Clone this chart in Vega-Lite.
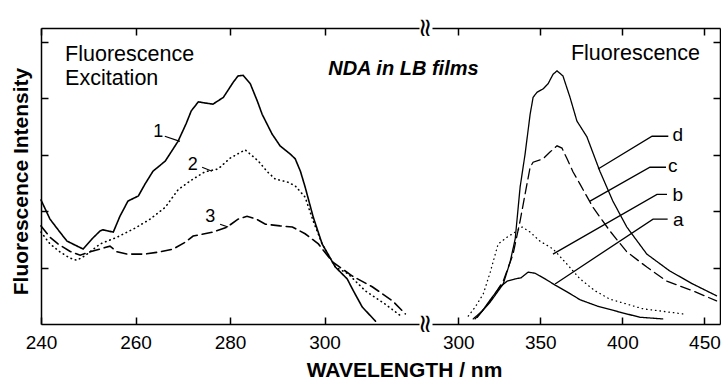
{
  "$schema": "https://vega.github.io/schema/vega-lite/v6.json",
  "padding": {"left": 10, "top": 17, "right": 0, "bottom": 0},
  "config": {
    "view": {"stroke": null},
    "font": "Liberation Sans",
    "axis": {
      "grid": false,
      "domainColor": "black",
      "domainWidth": 1.5,
      "tickColor": "black",
      "tickWidth": 1.5,
      "tickSize": -7,
      "labelFont": "Liberation Sans",
      "labelFontSize": 19,
      "labelColor": "black",
      "labelFlush": false,
      "labelPadding": 31,
      "labelBaseline": "alphabetic",
      "titleColor": "black",
      "titleFont": "Liberation Sans"
    }
  },
  "datasets": {
    "exc": [
      {"wl": 240.0, "v": 2.20, "s": "1"}, {"wl": 241.9, "v": 1.86, "s": "1"}, {"wl": 244.0, "v": 1.63, "s": "1"},
      {"wl": 245.5, "v": 1.47, "s": "1"}, {"wl": 247.2, "v": 1.40, "s": "1"}, {"wl": 248.9, "v": 1.33, "s": "1"},
      {"wl": 250.8, "v": 1.51, "s": "1"}, {"wl": 252.5, "v": 1.65, "s": "1"}, {"wl": 253.1, "v": 1.67, "s": "1"},
      {"wl": 254.2, "v": 1.65, "s": "1"}, {"wl": 255.3, "v": 1.63, "s": "1"}, {"wl": 256.7, "v": 1.91, "s": "1"},
      {"wl": 258.4, "v": 2.18, "s": "1"}, {"wl": 260.6, "v": 2.27, "s": "1"}, {"wl": 262.0, "v": 2.48, "s": "1"},
      {"wl": 263.7, "v": 2.71, "s": "1"}, {"wl": 266.3, "v": 2.89, "s": "1"}, {"wl": 269.0, "v": 3.24, "s": "1"},
      {"wl": 270.7, "v": 3.55, "s": "1"}, {"wl": 271.8, "v": 3.78, "s": "1"}, {"wl": 273.3, "v": 3.94, "s": "1"},
      {"wl": 274.7, "v": 3.92, "s": "1"}, {"wl": 276.4, "v": 3.90, "s": "1"}, {"wl": 278.6, "v": 4.02, "s": "1"},
      {"wl": 280.7, "v": 4.29, "s": "1"}, {"wl": 281.7, "v": 4.40, "s": "1"}, {"wl": 282.8, "v": 4.41, "s": "1"},
      {"wl": 284.3, "v": 4.26, "s": "1"}, {"wl": 285.8, "v": 3.95, "s": "1"}, {"wl": 286.8, "v": 3.72, "s": "1"},
      {"wl": 288.9, "v": 3.37, "s": "1"}, {"wl": 290.6, "v": 3.16, "s": "1"}, {"wl": 292.8, "v": 3.01, "s": "1"},
      {"wl": 293.8, "v": 2.93, "s": "1"}, {"wl": 294.9, "v": 2.71, "s": "1"}, {"wl": 295.9, "v": 2.43, "s": "1"},
      {"wl": 297.6, "v": 1.90, "s": "1"}, {"wl": 299.5, "v": 1.42, "s": "1"}, {"wl": 302.3, "v": 1.01, "s": "1"},
      {"wl": 304.8, "v": 0.80, "s": "1"}, {"wl": 306.1, "v": 0.59, "s": "1"}, {"wl": 308.0, "v": 0.30, "s": "1"},
      {"wl": 310.8, "v": 0.05, "s": "1"},
      {"wl": 240.0, "v": 1.63, "s": "2"}, {"wl": 241.9, "v": 1.42, "s": "2"}, {"wl": 244.0, "v": 1.28, "s": "2"},
      {"wl": 246.1, "v": 1.17, "s": "2"}, {"wl": 247.6, "v": 1.13, "s": "2"}, {"wl": 249.3, "v": 1.21, "s": "2"},
      {"wl": 252.5, "v": 1.42, "s": "2"}, {"wl": 256.1, "v": 1.54, "s": "2"}, {"wl": 259.9, "v": 1.70, "s": "2"},
      {"wl": 263.1, "v": 1.86, "s": "2"}, {"wl": 266.3, "v": 2.07, "s": "2"}, {"wl": 269.0, "v": 2.38, "s": "2"},
      {"wl": 271.6, "v": 2.54, "s": "2"}, {"wl": 274.7, "v": 2.70, "s": "2"}, {"wl": 277.5, "v": 2.75, "s": "2"},
      {"wl": 280.0, "v": 2.94, "s": "2"}, {"wl": 283.2, "v": 3.09, "s": "2"}, {"wl": 286.0, "v": 2.89, "s": "2"},
      {"wl": 287.9, "v": 2.70, "s": "2"}, {"wl": 289.6, "v": 2.57, "s": "2"}, {"wl": 292.1, "v": 2.52, "s": "2"},
      {"wl": 293.8, "v": 2.45, "s": "2"}, {"wl": 295.9, "v": 2.25, "s": "2"}, {"wl": 297.6, "v": 1.83, "s": "2"},
      {"wl": 299.5, "v": 1.42, "s": "2"}, {"wl": 302.3, "v": 1.01, "s": "2"}, {"wl": 305.0, "v": 0.89, "s": "2"},
      {"wl": 308.6, "v": 0.59, "s": "2"}, {"wl": 312.9, "v": 0.35, "s": "2"}, {"wl": 316.5, "v": 0.12, "s": "2"},
      {"wl": 240.0, "v": 1.74, "s": "3"}, {"wl": 241.9, "v": 1.54, "s": "3"}, {"wl": 243.6, "v": 1.42, "s": "3"},
      {"wl": 246.1, "v": 1.29, "s": "3"}, {"wl": 248.3, "v": 1.22, "s": "3"}, {"wl": 250.4, "v": 1.28, "s": "3"},
      {"wl": 252.5, "v": 1.33, "s": "3"}, {"wl": 254.6, "v": 1.38, "s": "3"}, {"wl": 256.1, "v": 1.28, "s": "3"},
      {"wl": 258.2, "v": 1.24, "s": "3"}, {"wl": 262.0, "v": 1.24, "s": "3"}, {"wl": 265.2, "v": 1.28, "s": "3"},
      {"wl": 268.0, "v": 1.33, "s": "3"}, {"wl": 270.5, "v": 1.45, "s": "3"}, {"wl": 272.2, "v": 1.56, "s": "3"},
      {"wl": 276.4, "v": 1.63, "s": "3"}, {"wl": 279.4, "v": 1.72, "s": "3"}, {"wl": 281.7, "v": 1.86, "s": "3"},
      {"wl": 283.6, "v": 1.91, "s": "3"}, {"wl": 285.6, "v": 1.86, "s": "3"}, {"wl": 287.5, "v": 1.77, "s": "3"},
      {"wl": 290.6, "v": 1.74, "s": "3"}, {"wl": 293.2, "v": 1.72, "s": "3"}, {"wl": 295.9, "v": 1.60, "s": "3"},
      {"wl": 298.7, "v": 1.42, "s": "3"}, {"wl": 301.7, "v": 1.10, "s": "3"}, {"wl": 305.9, "v": 0.85, "s": "3"},
      {"wl": 310.1, "v": 0.66, "s": "3"}, {"wl": 314.4, "v": 0.41, "s": "3"}, {"wl": 317.1, "v": 0.18, "s": "3"}
    ],
    "flu": [
      {"wl": 309.1, "v": 0.09, "s": "a"}, {"wl": 314.6, "v": 0.23, "s": "a"}, {"wl": 319.5, "v": 0.43, "s": "a"},
      {"wl": 325.5, "v": 0.66, "s": "a"}, {"wl": 329.8, "v": 0.76, "s": "a"}, {"wl": 334.7, "v": 0.80, "s": "a"},
      {"wl": 338.3, "v": 0.82, "s": "a"}, {"wl": 342.6, "v": 0.92, "s": "a"}, {"wl": 346.8, "v": 0.90, "s": "a"},
      {"wl": 352.9, "v": 0.80, "s": "a"}, {"wl": 359.0, "v": 0.69, "s": "a"}, {"wl": 366.3, "v": 0.57, "s": "a"},
      {"wl": 374.2, "v": 0.43, "s": "a"}, {"wl": 384.5, "v": 0.32, "s": "a"}, {"wl": 398.5, "v": 0.21, "s": "a"},
      {"wl": 410.6, "v": 0.12, "s": "a"}, {"wl": 424.6, "v": 0.09, "s": "a"},
      {"wl": 306.1, "v": 0.14, "s": "b"}, {"wl": 310.3, "v": 0.30, "s": "b"}, {"wl": 315.2, "v": 0.53, "s": "b"},
      {"wl": 319.5, "v": 0.92, "s": "b"}, {"wl": 324.3, "v": 1.42, "s": "b"}, {"wl": 329.8, "v": 1.54, "s": "b"},
      {"wl": 334.7, "v": 1.63, "s": "b"}, {"wl": 338.9, "v": 1.72, "s": "b"}, {"wl": 343.8, "v": 1.63, "s": "b"},
      {"wl": 349.8, "v": 1.47, "s": "b"}, {"wl": 357.8, "v": 1.33, "s": "b"}, {"wl": 366.3, "v": 1.06, "s": "b"},
      {"wl": 374.2, "v": 0.80, "s": "b"}, {"wl": 383.3, "v": 0.59, "s": "b"}, {"wl": 392.4, "v": 0.44, "s": "b"},
      {"wl": 412.5, "v": 0.27, "s": "b"}, {"wl": 436.8, "v": 0.18, "s": "b"},
      {"wl": 311.6, "v": 0.12, "s": "c"}, {"wl": 319.5, "v": 0.41, "s": "c"}, {"wl": 327.4, "v": 0.76, "s": "c"},
      {"wl": 333.4, "v": 1.24, "s": "c"}, {"wl": 337.7, "v": 1.83, "s": "c"}, {"wl": 340.7, "v": 2.30, "s": "c"},
      {"wl": 343.8, "v": 2.78, "s": "c"}, {"wl": 345.6, "v": 2.87, "s": "c"}, {"wl": 351.7, "v": 2.93, "s": "c"},
      {"wl": 355.9, "v": 3.05, "s": "c"}, {"wl": 360.2, "v": 3.16, "s": "c"}, {"wl": 363.2, "v": 3.12, "s": "c"},
      {"wl": 366.3, "v": 2.93, "s": "c"}, {"wl": 369.9, "v": 2.70, "s": "c"}, {"wl": 374.2, "v": 2.48, "s": "c"},
      {"wl": 382.1, "v": 2.07, "s": "c"}, {"wl": 392.4, "v": 1.65, "s": "c"}, {"wl": 402.7, "v": 1.28, "s": "c"},
      {"wl": 414.9, "v": 1.01, "s": "c"}, {"wl": 427.1, "v": 0.76, "s": "c"}, {"wl": 442.9, "v": 0.59, "s": "c"},
      {"wl": 457.4, "v": 0.41, "s": "c"},
      {"wl": 310.3, "v": 0.09, "s": "d"}, {"wl": 319.5, "v": 0.39, "s": "d"}, {"wl": 327.4, "v": 0.71, "s": "d"},
      {"wl": 331.6, "v": 1.10, "s": "d"}, {"wl": 334.7, "v": 1.51, "s": "d"}, {"wl": 337.7, "v": 2.43, "s": "d"},
      {"wl": 340.7, "v": 3.01, "s": "d"}, {"wl": 343.8, "v": 3.72, "s": "d"}, {"wl": 345.6, "v": 4.02, "s": "d"},
      {"wl": 348.0, "v": 4.11, "s": "d"}, {"wl": 351.7, "v": 4.17, "s": "d"}, {"wl": 354.7, "v": 4.26, "s": "d"},
      {"wl": 357.8, "v": 4.43, "s": "d"}, {"wl": 360.2, "v": 4.49, "s": "d"}, {"wl": 363.8, "v": 4.40, "s": "d"},
      {"wl": 368.1, "v": 4.02, "s": "d"}, {"wl": 372.3, "v": 3.60, "s": "d"}, {"wl": 378.4, "v": 3.32, "s": "d"},
      {"wl": 386.3, "v": 2.71, "s": "d"}, {"wl": 394.2, "v": 2.18, "s": "d"}, {"wl": 402.7, "v": 1.72, "s": "d"},
      {"wl": 414.9, "v": 1.24, "s": "d"}, {"wl": 428.9, "v": 0.94, "s": "d"}, {"wl": 442.9, "v": 0.71, "s": "d"},
      {"wl": 457.4, "v": 0.50, "s": "d"}
    ],
    "leadExc": [
      {"wl": 266.2, "v": 3.33, "s": "1"}, {"wl": 269.4, "v": 3.24, "s": "1"},
      {"wl": 274.1, "v": 2.78, "s": "2"}, {"wl": 276.2, "v": 2.71, "s": "2"},
      {"wl": 277.9, "v": 1.77, "s": "3"}, {"wl": 279.6, "v": 1.72, "s": "3"}
    ],
    "leadFlu": [
      {"wl": 385.2, "v": 2.75, "s": "d"}, {"wl": 418.1, "v": 3.33, "s": "d"}, {"wl": 428.0, "v": 3.33, "s": "d"},
      {"wl": 380.3, "v": 2.18, "s": "c"}, {"wl": 416.8, "v": 2.78, "s": "c"}, {"wl": 426.6, "v": 2.78, "s": "c"},
      {"wl": 357.7, "v": 1.24, "s": "b"}, {"wl": 421.1, "v": 2.30, "s": "b"}, {"wl": 427.2, "v": 2.30, "s": "b"},
      {"wl": 359.0, "v": 0.71, "s": "a"}, {"wl": 418.7, "v": 1.86, "s": "a"}, {"wl": 427.6, "v": 1.86, "s": "a"}
    ],
    "numExc": [
      {"wl": 264.8, "v": 3.32, "t": "1"},
      {"wl": 272.1, "v": 2.73, "t": "2"},
      {"wl": 275.8, "v": 1.81, "t": "3"}
    ],
    "letFlu": [
      {"wl": 430.5, "v": 3.24, "t": "d"},
      {"wl": 427.8, "v": 2.70, "t": "c"},
      {"wl": 430.5, "v": 2.18, "t": "b"},
      {"wl": 430.8, "v": 1.74, "t": "a"}
    ],
    "capExc": [
      {"wl": 245.1, "v": 4.66, "t": "Fluorescence"},
      {"wl": 245.1, "v": 4.24, "t": "Excitation"}
    ],
    "capNda": [
      {"wl": 316.7, "v": 4.41, "t": "NDA in LB films"}
    ],
    "capFlu": [
      {"wl": 408.0, "v": 4.68, "t": "Fluorescence"}
    ],
    "brk": [
      {"wl": 321.3, "v": 0},
      {"wl": 321.3, "v": 5.25}
    ]
  },
  "hconcat": [
    {
      "width": 378,
      "height": 296,
      "layer": [
        {
          "data": {"name": "exc"},
          "mark": {"type": "line", "color": "black", "strokeWidth": 1.6, "strokeCap": "round"},
          "encoding": {
            "x": {"field": "wl", "type": "quantitative",
              "scale": {"domain": [240, 320], "nice": false, "zero": false},
              "axis": {"orient": "bottom", "values": [240, 260, 280, 300], "title": "WAVELENGTH / nm",
                "titleFontSize": 21, "titleFontWeight": "bold", "titleX": 363, "titleY": 52,
                "titleAlign": "center", "titleBaseline": "alphabetic"}},
            "y": {"field": "v", "type": "quantitative",
              "scale": {"domain": [0, 5.25], "nice": false, "zero": false},
              "axis": {"orient": "left", "values": [1, 2, 3, 4, 5], "labels": false,
                "title": "Fluorescence Intensity", "titleFontSize": 21, "titleFontWeight": "bold",
                "titlePadding": 9, "titleY": 153}},
            "strokeDash": {"field": "s", "type": "nominal",
              "scale": {"domain": ["1", "2", "3"], "range": [[1, 0], [0.5, 4], [10, 5]]},
              "legend": null}
          }
        },
        {
          "data": {"name": "leadExc"},
          "mark": {"type": "line", "color": "black", "strokeWidth": 1.2},
          "encoding": {
            "x": {"field": "wl", "type": "quantitative",
              "scale": {"domain": [240, 320], "nice": false, "zero": false},
              "axis": {"orient": "top", "values": [240, 260, 280, 300], "labels": false, "title": null}},
            "y": {"field": "v", "type": "quantitative", "scale": {"domain": [0, 5.25], "nice": false, "zero": false}, "axis": null},
            "detail": {"field": "s", "type": "nominal"}
          }
        },
        {
          "data": {"name": "numExc"},
          "mark": {"type": "text", "fontSize": 18, "align": "center", "baseline": "alphabetic", "color": "black"},
          "encoding": {
            "x": {"field": "wl", "type": "quantitative", "axis": null},
            "y": {"field": "v", "type": "quantitative", "axis": null},
            "text": {"field": "t"}
          }
        },
        {
          "data": {"name": "capExc"},
          "mark": {"type": "text", "fontSize": 21.5, "align": "left", "baseline": "alphabetic", "color": "black"},
          "encoding": {
            "x": {"field": "wl", "type": "quantitative", "axis": null},
            "y": {"field": "v", "type": "quantitative", "axis": null},
            "text": {"field": "t"}
          }
        },
        {
          "data": {"name": "capNda"},
          "mark": {"type": "text", "fontSize": 20, "fontWeight": "bold", "fontStyle": "italic", "align": "center", "baseline": "alphabetic", "color": "black"},
          "encoding": {
            "x": {"field": "wl", "type": "quantitative", "axis": null},
            "y": {"field": "v", "type": "quantitative", "axis": null},
            "text": {"field": "t"}
          }
        },
        {
          "data": {"name": "brk"},
          "mark": {"type": "text", "text": "≈", "font": "DejaVu Sans", "fontSize": 26, "angle": 90, "align": "center", "baseline": "middle", "color": "black"},
          "encoding": {
            "x": {"field": "wl", "type": "quantitative", "axis": null},
            "y": {"field": "v", "type": "quantitative", "axis": null}
          }
        }
      ],
      "resolve": {"axis": {"x": "independent", "y": "independent"}}
    },
    {
      "width": 288,
      "height": 296,
      "layer": [
        {
          "data": {"name": "flu"},
          "mark": {"type": "line", "color": "black", "strokeWidth": 1.3, "strokeCap": "round"},
          "encoding": {
            "x": {"field": "wl", "type": "quantitative",
              "scale": {"domain": [284, 459.5], "nice": false, "zero": false},
              "axis": {"orient": "bottom", "values": [300, 350, 400, 450], "title": null}},
            "y": {"field": "v", "type": "quantitative",
              "scale": {"domain": [0, 5.25], "nice": false, "zero": false},
              "axis": {"orient": "right", "values": [1, 2, 3, 4, 5], "labels": false, "title": null}},
            "strokeDash": {"field": "s", "type": "nominal",
              "scale": {"domain": ["a", "b", "c", "d"], "range": [[1, 0], [0.5, 4], [7, 4], [9, 4.5, 0.5, 4.5]]},
              "legend": null}
          }
        },
        {
          "data": {"name": "leadFlu"},
          "mark": {"type": "line", "color": "black", "strokeWidth": 1.3},
          "encoding": {
            "x": {"field": "wl", "type": "quantitative",
              "scale": {"domain": [284, 459.5], "nice": false, "zero": false},
              "axis": {"orient": "top", "values": [300, 350, 400, 450], "labels": false, "title": null}},
            "y": {"field": "v", "type": "quantitative", "scale": {"domain": [0, 5.25], "nice": false, "zero": false}, "axis": null},
            "detail": {"field": "s", "type": "nominal"}
          }
        },
        {
          "data": {"name": "letFlu"},
          "mark": {"type": "text", "fontSize": 19, "align": "left", "baseline": "alphabetic", "color": "black"},
          "encoding": {
            "x": {"field": "wl", "type": "quantitative", "axis": null},
            "y": {"field": "v", "type": "quantitative", "axis": null},
            "text": {"field": "t"}
          }
        },
        {
          "data": {"name": "capFlu"},
          "mark": {"type": "text", "fontSize": 21.5, "align": "center", "baseline": "alphabetic", "color": "black"},
          "encoding": {
            "x": {"field": "wl", "type": "quantitative", "axis": null},
            "y": {"field": "v", "type": "quantitative", "axis": null},
            "text": {"field": "t"}
          }
        }
      ],
      "resolve": {"axis": {"x": "independent", "y": "independent"}}
    }
  ],
  "spacing": 13,
  "bounds": "flush"
}
